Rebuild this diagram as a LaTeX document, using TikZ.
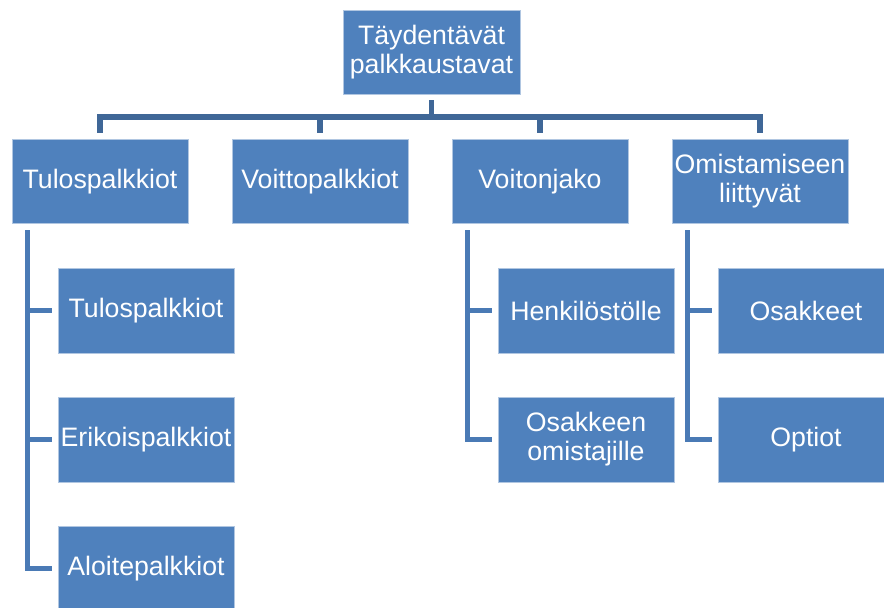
\documentclass[tikz,border=0pt]{standalone}
\usepackage{fontspec}
\setmainfont{Liberation Sans}
\usetikzlibrary{calc}
\definecolor{boxblue}{HTML}{4F81BD}
\definecolor{topline}{HTML}{3F6797}
\definecolor{subline}{HTML}{4A7AB5}
\tikzset{
  orgbox/.style={rectangle, fill=boxblue, draw=white!55!boxblue, line width=0.8pt,
    minimum width=176pt, minimum height=84pt, inner sep=2pt, align=center,
    text=white, font=\fontsize{26.7}{29}\selectfont},
  topconn/.style={draw=topline, line width=5.5pt, line join=miter},
  subconn/.style={draw=subline, line width=5pt, line join=miter},
}
\begin{document}
\begin{tikzpicture}[x=1pt,y=-1pt]
\clip (0,0) rectangle (884,608);
\fill[white] (0,0) rectangle (884,608);
% top
\node[orgbox, minimum width=177pt] (top) at (431.5,52) {Täydentävät\\palkkaustavat};
% level 1
\node[orgbox] (t1) at (100,181.5) {Tulospalkkiot};
\node[orgbox] (t2) at (320,181.5) {Voittopalkkiot};
\node[orgbox] (t3) at (540,181.5) {Voitonjako};
\node[orgbox] (t4) at (760,181.5) {Omistamiseen\\liittyvät};
% children
\node[orgbox, minimum height=85pt] (a1) at (146,310.5) {Tulospalkkiot};
\node[orgbox, minimum height=85pt] (a2) at (146,439.5) {Erikoispalkkiot};
\node[orgbox, minimum height=85pt] (a3) at (146,568.5) {Aloitepalkkiot};
\node[orgbox, minimum height=85pt] (b1) at (586,310.5) {Henkilöstölle};
\node[orgbox, minimum height=85pt] (b2) at (586,439.5) {Osakkeen\\omistajille};
\node[orgbox, minimum height=85pt] (c1) at (806,310.5) {Osakkeet};
\node[orgbox, minimum height=85pt] (c2) at (806,439.5) {Optiot};
% top connectors
\coordinate (ts) at ($(top.south)+(0,6)$);
\coordinate (bus) at ($(top.south)+(0,22.5)$);
\draw[topconn] (ts) -- (bus);
\draw[topconn] ($(t1.north)+(0,-6.5)$) |- (bus -| t4.north) -- ($(t4.north)+(0,-6.5)$);
\draw[topconn] ($(t2.north)+(0,-6.5)$) -- (bus -| t2.north);
\draw[topconn] ($(t3.north)+(0,-6.5)$) -- (bus -| t3.north);
% sub connectors
\coordinate (la) at ($(t1.south west)+(15.5,6.5)$);
\coordinate (lb) at ($(t3.south west)+(15.5,6.5)$);
\coordinate (lc) at ($(t4.south west)+(15.5,6.5)$);
\draw[subconn] (la) |- ($(a3.west)+(-6,0)$);
\draw[subconn] (la |- a1.west) -- ($(a1.west)+(-6,0)$);
\draw[subconn] (la |- a2.west) -- ($(a2.west)+(-6,0)$);
\draw[subconn] (lb) |- ($(b2.west)+(-6,0)$);
\draw[subconn] (lb |- b1.west) -- ($(b1.west)+(-6,0)$);
\draw[subconn] (lc) |- ($(c2.west)+(-6,0)$);
\draw[subconn] (lc |- c1.west) -- ($(c1.west)+(-6,0)$);
\end{tikzpicture}
\end{document}
